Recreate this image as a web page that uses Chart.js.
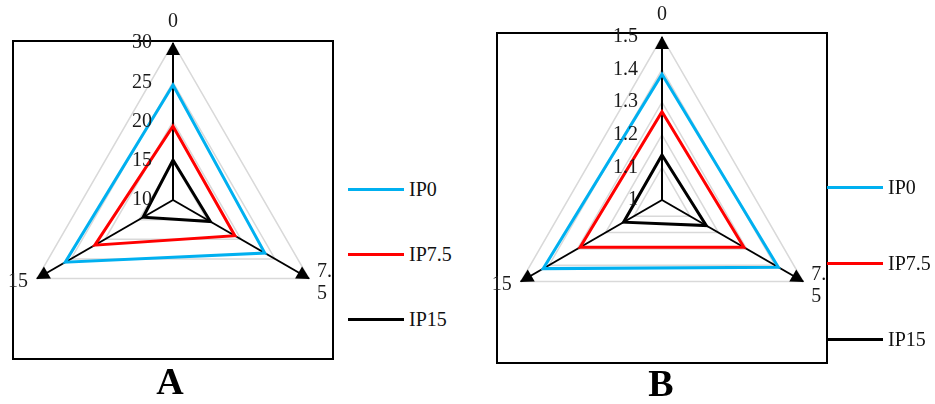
<!DOCTYPE html>
<html>
<head>
<meta charset="utf-8">
<script src="https://cdn.jsdelivr.net/npm/chart.js@4.4.1/dist/chart.umd.min.js"></script>
<style>
  body { margin: 0; background: #fff; }
  #page { position: relative; width: 935px; height: 404px; overflow: hidden; font-family: "Liberation Serif", "Times New Roman", serif; }
  .frame { position: absolute; box-sizing: border-box; border: 2px solid #000; }
  canvas { position: absolute; top: 0; }
  .legend { position: absolute; }
  .legend .item { display: flex; align-items: center; font-size: 20px; color: #111; }
  .legend .swatch { display: inline-block; width: 56px; height: 3px; margin-right: 5px; }
  .panel { position: absolute; font-size: 38px; font-weight: bold; transform: translate(-50%, -50%); }
</style>
</head>
<body>
<div id="page">
  <div class="frame" style="left:12px;top:40px;width:322px;height:320px"></div>
  <div class="frame" style="left:496px;top:32px;width:332px;height:332px"></div>
  <canvas id="graphA" width="340" height="404" style="left:0px"></canvas>
  <canvas id="graphB" width="345" height="404" style="left:490px"></canvas>
  <div class="legend" id="legendA" style="left:348px;top:157px"></div>
  <div class="legend" id="legendB" style="left:827px;top:149px"></div>
  <div class="panel" style="left:170px;top:381px">A</div>
  <div class="panel" style="left:661px;top:383px">B</div>
</div>
<script>
// axes: 0, 7.5, 15 (7.5 is wrapped like in the original)
const categories = ['0', ['7.', '5'], '15'];
const seriesNames = ['IP0', 'IP7.5', 'IP15'];
const seriesColors = ['#00b0f0', '#ff0000', '#000000'];

// panel A
const ticksA = [10, 15, 20, 25, 30];
const ip0_A = [24.65, 23.5, 25.85];
const ip75_A = [19.4, 19.1, 21.5];
const ip15_A = [15.1, 15.5, 14.4];

// panel B
const ticksB = [1, 1.1, 1.2, 1.3, 1.4, 1.5];
const ip0_B = [1.386, 1.412, 1.421];
const ip75_B = [1.271, 1.29, 1.29];
const ip15_B = [1.138, 1.157, 1.136];

const labelFont = '20px "Liberation Serif", "Times New Roman", serif';

// arrows at the end of each spoke, tick labels left of the top spoke, point labels
const radarDecor = {
  id: 'radarDecor',
  afterDatasetsDraw(chart, args, opts) {
    const scale = chart.scales.r;
    const ctx = chart.ctx;
    const n = chart.data.labels.length;
    ctx.save();

    ctx.fillStyle = '#000';
    for (let i = 0; i < n; i++) {
      const tip = scale.getPointPosition(i, scale.drawingArea + 1);
      const ux = Math.cos(tip.angle), uy = Math.sin(tip.angle);
      const bx = tip.x - ux * 13, by = tip.y - uy * 13;
      ctx.beginPath();
      ctx.moveTo(tip.x, tip.y);
      ctx.lineTo(bx - uy * 7, by + ux * 7);
      ctx.lineTo(bx + uy * 7, by - ux * 7);
      ctx.closePath();
      ctx.fill();
    }

    ctx.font = labelFont;
    ctx.fillStyle = '#1a1a1a';
    ctx.textBaseline = 'middle';

    ctx.textAlign = 'right';
    opts.ticks.forEach(v => {
      const p = scale.getPointPositionForValue(0, v);
      ctx.fillText(String(v), scale.xCenter - opts.tickGap, p.y);
    });

    chart.data.labels.forEach((lbl, i) => {
      const p = scale.getPointPosition(i, scale.drawingArea);
      const lines = [].concat(lbl);
      if (i == 0) {
        ctx.textAlign = 'center';
        ctx.fillText(lines[0], p.x, p.y - opts.topGap);
      } else if (p.x > scale.xCenter) {
        ctx.textAlign = 'left';
        lines.forEach((t, k) => ctx.fillText(t, p.x + 8, p.y - 7 + k * 22.5));
      } else {
        ctx.textAlign = 'right';
        lines.forEach((t, k) => ctx.fillText(t, p.x - 9, p.y + 3 + k * 22.5));
      }
    });
    ctx.restore();
  }
};

function make_radar(id, series, ticks, pad, tickGap, topGap) {
  return new Chart(document.getElementById(id), {
    type: 'radar',
    data: {
      labels: categories,
      datasets: series.map((vals, i) => ({
        label: seriesNames[i],
        data: vals,
        borderColor: seriesColors[i],
        backgroundColor: seriesColors[i],
        borderWidth: 3,
        fill: false,
        pointRadius: 0,
        pointHoverRadius: 0
      }))
    },
    options: {
      responsive: false,
      animation: false,
      layout: { padding: pad },
      plugins: {
        legend: { display: false },
        tooltip: { enabled: false },
        radarDecor: { ticks: ticks, tickGap: tickGap, topGap: topGap }
      },
      scales: {
        r: {
          min: ticks[0],
          max: ticks[ticks.length - 1],
          afterBuildTicks: s => { s.ticks = ticks.map(v => ({ value: v })); },
          ticks: { display: false },
          grid: { color: '#d9d9d9', lineWidth: 1.5 },
          angleLines: { color: '#000', lineWidth: 2 },
          pointLabels: { display: false }
        }
      }
    },
    plugins: [radarDecor]
  });
}

function html_legend(chart, el, rowHeight) {
  chart.data.datasets.forEach(ds => {
    const row = document.createElement('div');
    row.className = 'item';
    row.style.height = rowHeight + 'px';
    const sw = document.createElement('span');
    sw.className = 'swatch';
    sw.style.background = ds.borderColor;
    const txt = document.createElement('span');
    txt.textContent = ds.label;
    row.appendChild(sw);
    row.appendChild(txt);
    el.appendChild(row);
  });
}

const chartA = make_radar('graphA', [ip0_A, ip75_A, ip15_A], ticksA,
  { left: 16, right: 10, top: 43, bottom: 47 }, 21, 21);
const chartB = make_radar('graphB', [ip0_B, ip75_B, ip15_B], ticksB,
  { left: 9, right: 10, top: 37, bottom: 41 }, 24, 22);

html_legend(chartA, document.getElementById('legendA'), 65);
html_legend(chartB, document.getElementById('legendB'), 76);
</script>
</body>
</html>
